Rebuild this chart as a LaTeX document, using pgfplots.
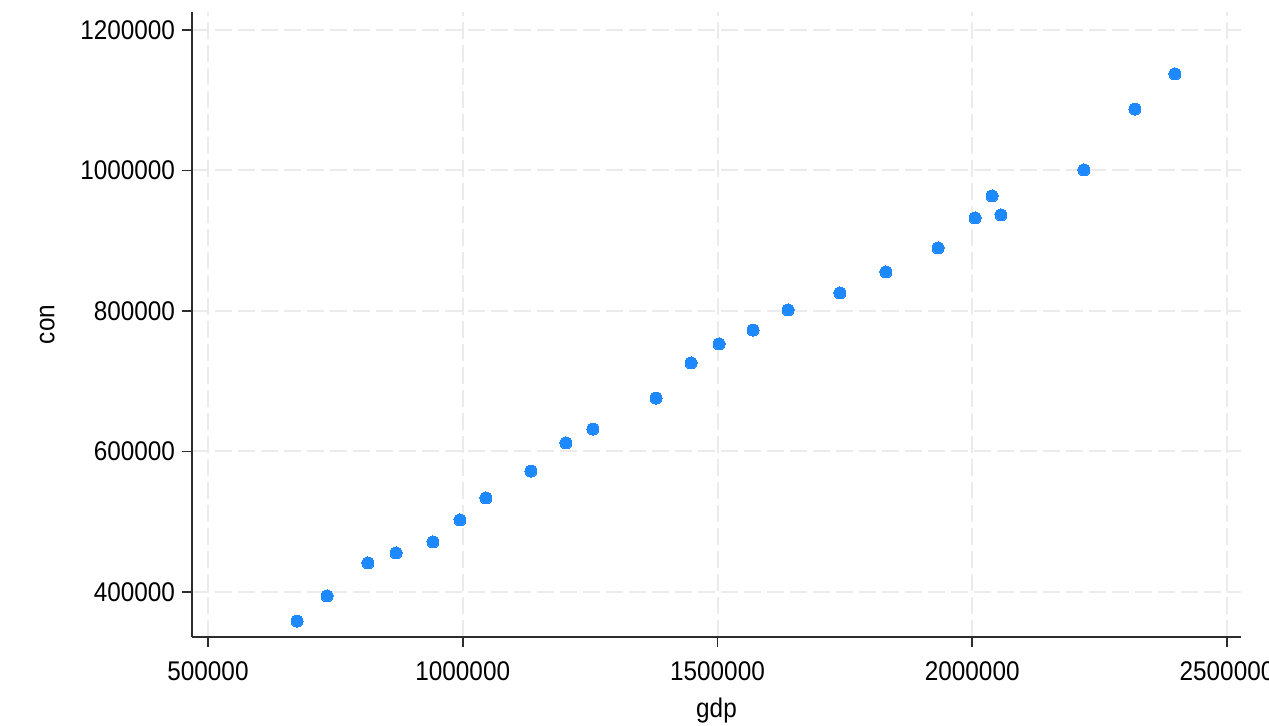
\documentclass[border=0pt]{standalone}
\usepackage{fontspec}
\setmainfont{Liberation Sans}[FakeStretch=0.9]
\usepackage{pgfplots}
\pgfplotsset{compat=1.18}
\definecolor{ptc}{RGB}{30,136,255}
\definecolor{gridc}{RGB}{235,235,235}
\definecolor{axc}{RGB}{45,45,45}
\begin{document}
\begin{tikzpicture}
\useasboundingbox (-96pt,-44.5pt) rectangle (538.5pt,318.5pt);
\begin{axis}[
  at={(0,0)}, anchor=south west,
  scale only axis, width=524.5pt, height=312.5pt,
  xmin=468597, xmax=2527478, ymin=335943, ymax=1225623,
  axis lines=left, axis line style={-, color=axc, line width=0.8pt},
  xtick={500000,1000000,1500000,2000000,2500000},
  ytick={400000,600000,800000,1000000,1200000},
  scaled ticks=false,
  tick align=outside, major tick length=5pt,
  tick style={color=axc, line width=0.8pt},
  /pgf/number format/assume math mode=true,
  /pgf/number format/fixed, /pgf/number format/1000 sep={},
  tick label style={font=\fontsize{13.5pt}{16pt}\selectfont, text=black},
  xticklabel style={yshift=-4pt},
  grid=major,
  major grid style={color=gridc, line width=1pt, dash pattern=on 8.5pt off 3pt},
  every axis x label/.style={at={(axis description cs:0.5,-0.118)}, anchor=center, font=\fontsize{13.5pt}{16pt}\selectfont, text=black},
  every axis y label/.style={at={(axis description cs:-0.138,0.5)}, anchor=center, rotate=90, font=\fontsize{13.5pt}{16pt}\selectfont, text=black},
  xlabel={gdp}, ylabel={con},
  clip=false,
]
\addplot[only marks, mark=*, mark size=3pt, mark options={fill=ptc, draw=ptc, line width=0pt}] coordinates {
(674700,358700)
(733600,394300)
(814000,441300)
(869000,455500)
(941600,471200)
(994600,502500)
(1045600,533800)
(1133900,572200)
(1202600,612100)
(1255600,632000)
(1379300,676100)
(1448000,726000)
(1503000,753000)
(1569700,772900)
(1638400,801400)
(1740400,825600)
(1830700,855500)
(1932800,889700)
(2005400,932400)
(2038800,963700)
(2056400,936700)
(2219300,1000700)
(2319400,1087500)
(2397900,1137400)
};
\end{axis}
\end{tikzpicture}
\end{document}
